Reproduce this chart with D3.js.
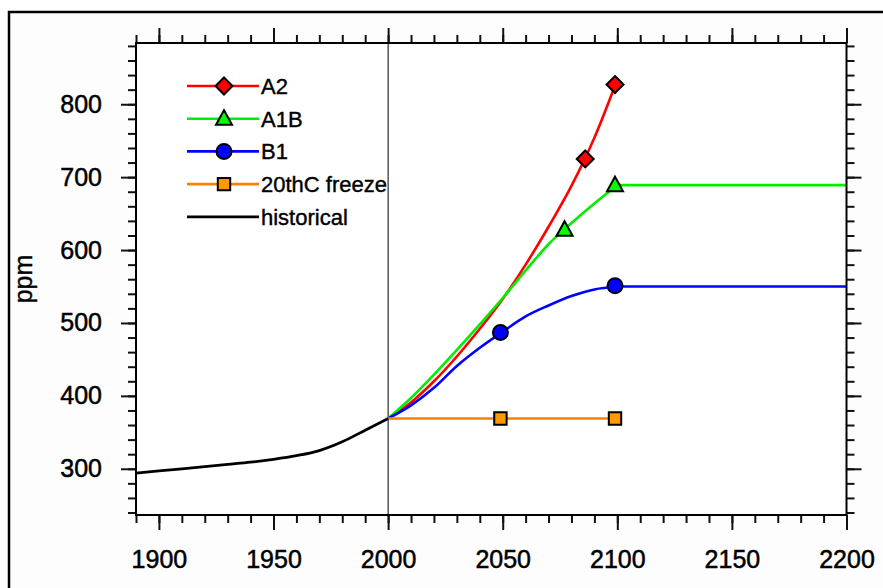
<!DOCTYPE html>
<html>
<head>
<meta charset="utf-8">
<script src="https://cdn.jsdelivr.net/npm/d3@7"></script>
<style>
	body { margin: 0; background: #fff; }
	svg { display: block; }
	text { font-family: "Liberation Sans", Arial, Helvetica, sans-serif; fill: #000; }
</style>
</head>
<body>
<div id="chart"></div>
<script>
// historical CO2 concentration
const histYears = [1890, 1900, 1910, 1920, 1930, 1940, 1950, 1960, 1970, 1980, 1990, 2000];
const histPpm = [294, 297, 300, 303, 306, 309, 313, 318, 325, 337, 353, 369];

// SRES scenarios, 2000-2100, then held constant to 2200 for A1B and B1
const scenYears = [2000, 2010, 2020, 2030, 2040, 2050, 2060, 2070, 2080, 2090, 2100];
const a2Ppm = [369, 391, 420, 454, 492, 533, 580, 632, 688, 754, 834];
const a1bPpm = [369, 397, 429, 463, 498, 534, 572, 608, 637, 664, 689];
const b1Ppm = [369, 387, 411, 441, 466, 488, 509, 524, 537, 546, 550];
const freezePpm = [369, 369, 369, 369, 369, 369, 369, 369, 369, 369, 369];
const stabYears = [2100, 2200];
const a1bStab = [689, 689];
const b1Stab = [550, 550];

// marker positions
const a2Marks = [[2086, 725], [2099, 827]];
const a1bMarks = [[2077, 628], [2099, 689]];
const b1Marks = [[2049, 487], [2099, 551]];
const freezeMarks = [[2049, 369], [2099, 369]];

const legendLabels = ['A2', 'A1B', 'B1', '20thC freeze', 'historical'];
const xTickValues = [1900, 1950, 2000, 2050, 2100, 2150, 2200];
const yTickValues = [300, 400, 500, 600, 700, 800];

const width = 883, height = 588;
const margin = {t: 43, r: 36.5, b: 73, l: 136};
const w = width - margin.l - margin.r;
const h = height - margin.t - margin.b;

const scaleX = d3.scaleLinear().domain([1890, 2200]).range([0, w]);
const scaleY = d3.scaleLinear().domain([236.6, 884]).range([h, 0]);

const svg = d3.select('#chart').append('svg')
	.attr('width', width)
	.attr('height', height);

// outer frame (runs off the right and bottom edges)
svg.append('rect')
	.attr('x', 9).attr('y', 12)
	.attr('width', 900).attr('height', 600)
	.attr('fill', '#fdfdfd')
	.attr('stroke', '#000')
	.attr('stroke-width', 2.5);

const plot = svg.append('g')
	.attr('transform', `translate(${margin.l},${margin.t})`);

plot.append('rect')
	.attr('width', w).attr('height', h)
	.attr('fill', '#fff');

// axes: minor + major on every side, ticks pointing out
const minorX = d3.range(1890, 2201, 10);
const minorY = d3.range(240, 881, 20);
const fmt = d3.format('d');

function styleAxis(g){
	g.select('.domain').remove();
	g.selectAll('line').attr('stroke', '#111').attr('stroke-width', 2);
	g.selectAll('text')
		.attr('font-size', 25)
		.attr('font-family', '"Liberation Sans", Arial, sans-serif')
		.attr('fill', '#000')
		.attr('stroke', '#000')
		.attr('stroke-width', 0.5);
}

plot.append('g').attr('transform', `translate(0,${h})`)
	.call(d3.axisBottom(scaleX).tickValues(minorX).tickSize(8).tickFormat(''))
	.call(styleAxis);
plot.append('g').attr('transform', `translate(0,${h})`)
	.call(d3.axisBottom(scaleX).tickValues(xTickValues).tickSize(15).tickPadding(20).tickFormat(fmt))
	.call(styleAxis);
plot.append('g')
	.call(d3.axisTop(scaleX).tickValues(minorX).tickSize(8).tickFormat(''))
	.call(styleAxis);
plot.append('g')
	.call(d3.axisTop(scaleX).tickValues(xTickValues).tickSize(15).tickFormat(''))
	.call(styleAxis);

plot.append('g')
	.call(d3.axisLeft(scaleY).tickValues(minorY).tickSize(8).tickFormat(''))
	.call(styleAxis);
plot.append('g')
	.call(d3.axisLeft(scaleY).tickValues(yTickValues).tickSize(15).tickPadding(19).tickFormat(fmt))
	.call(styleAxis);
plot.append('g').attr('transform', `translate(${w},0)`)
	.call(d3.axisRight(scaleY).tickValues(minorY).tickSize(8).tickFormat(''))
	.call(styleAxis);
plot.append('g').attr('transform', `translate(${w},0)`)
	.call(d3.axisRight(scaleY).tickValues(yTickValues).tickSize(15).tickFormat(''))
	.call(styleAxis);

// y axis title
svg.append('text')
	.attr('transform', 'translate(32,279) rotate(-90)')
	.attr('text-anchor', 'middle')
	.attr('font-size', 25)
	.attr('stroke', '#000')
	.attr('stroke-width', 0.4)
	.text('ppm');

// year 2000 reference line
plot.append('line')
	.attr('x1', scaleX(2000)).attr('x2', scaleX(2000))
	.attr('y1', 0).attr('y2', h)
	.attr('stroke', '#000')
	.attr('stroke-width', 1);

//Shape generator
const lineGen = d3.line()
	.curve(d3.curveMonotoneX)
	.x(d => scaleX(d[0]))
	.y(d => scaleY(d[1]));

const zip = (xs, ys) => xs.map((x, i) => [x, ys[i]]);

const series = [
	{name: 'A2', color: '#ff0000', fill: '#ff0000', shape: 'diamond', pts: [zip(scenYears, a2Ppm)], marks: a2Marks},
	{name: 'A1B', color: '#00ee00', fill: '#00ff00', shape: 'triangle', pts: [zip(scenYears, a1bPpm), zip(stabYears, a1bStab)], marks: a1bMarks},
	{name: 'B1', color: '#0000ff', fill: '#0000ff', shape: 'circle', pts: [zip(scenYears, b1Ppm), zip(stabYears, b1Stab)], marks: b1Marks},
	{name: '20thC freeze', color: '#ff8000', fill: '#ff9900', shape: 'square', pts: [zip(scenYears, freezePpm)], marks: freezeMarks},
	{name: 'historical', color: '#000', fill: null, shape: null, pts: [zip(histYears, histPpm)], marks: []}
];

const symbols = {
	diamond: 'M0,-8.5L8.5,0L0,8.5L-8.5,0Z',
	triangle: 'M0,-8.5L8,6L-8,6Z',
	square: 'M-6.2,-6.2H6.2V6.2H-6.2Z',
	circle: d3.symbol(d3.symbolCircle, Math.PI * 7.5 * 7.5)()
};

series.forEach(s => {
	s.pts.forEach(p => {
		plot.append('path')
			.datum(p)
			.attr('d', lineGen)
			.attr('fill', 'none')
			.attr('stroke', s.color)
			.attr('stroke-width', s.shape ? 2.6 : 2.8)
			.attr('stroke-linejoin', 'round');
	});
});

series.forEach(s => {
	plot.selectAll(null)
		.data(s.marks)
		.enter().append('path')
		.attr('transform', d => `translate(${scaleX(d[0])},${scaleY(d[1])})`)
		.attr('d', symbols[s.shape])
		.attr('fill', s.fill)
		.attr('stroke', '#000')
		.attr('stroke-width', 2);
});

// plot frame
plot.append('rect')
	.attr('width', w).attr('height', h)
	.attr('fill', 'none')
	.attr('stroke', '#000')
	.attr('stroke-width', 2);

// legend
const legend = svg.append('g');
const row = legend.selectAll('g')
	.data(series)
	.enter().append('g')
	.attr('transform', (d, i) => `translate(187,${86 + i * 32.7})`);

row.append('line')
	.attr('x1', 0).attr('x2', 72)
	.attr('stroke', d => d.color)
	.attr('stroke-width', d => d.shape ? 2.6 : 2.8);

row.filter(d => d.shape)
	.append('path')
	.attr('transform', 'translate(37,0)')
	.attr('d', d => symbols[d.shape])
	.attr('fill', d => d.fill)
	.attr('stroke', '#000')
	.attr('stroke-width', 2);

row.append('text')
	.attr('x', 74)
	.attr('dy', '0.36em')
	.attr('font-size', 22)
	.attr('stroke', '#000')
	.attr('stroke-width', 0.4)
	.text((d, i) => legendLabels[i]);
</script>
</body>
</html>
